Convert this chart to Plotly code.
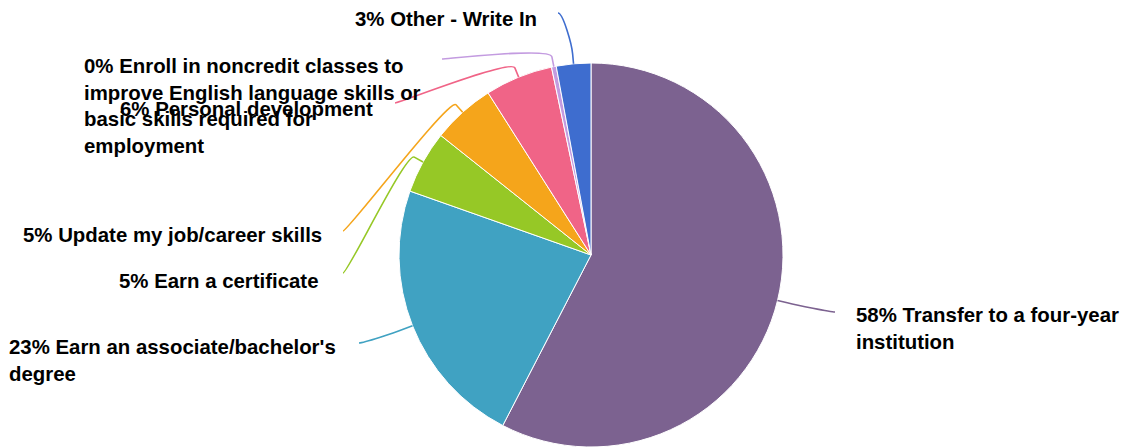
import math
import textwrap
import plotly.graph_objects as go

# ---------------- data ----------------
categories = [
    "Transfer to a four-year institution",
    "Earn an associate/bachelor's degree",
    "Earn a certificate",
    "Update my job/career skills",
    "Personal development",
    "Enroll in noncredit classes to improve English language skills or basic skills required for employment",
    "Other - Write In",
]
values = [57.6, 22.8, 5.3, 5.3, 5.7, 0.4, 2.9]

# ---------------- styles / layout ----------------
colors = ["#7C6290", "#40A2C2", "#96C826", "#F5A51B", "#F06487", "#C39BE0", "#3E6DCF"]

W, H = 1124, 447
CX, CY, R = 591, 255, 192          # pie centre and radius in pixels
BREAK = 10                          # connector crook distance outside the pie
WRAP = 34                           # characters per label line
FONT_SIZE = 20.4

# label placement (pixels): connector start, text anchor, side
label_layout = [
    dict(lx=835, ly=312, side="right", tx=855, ty=328),
    dict(lx=359, ly=343, side="left", tx=337, ty=360),
    dict(lx=343, ly=273, side="left", tx=319, ty=281),
    dict(lx=343, ly=231, side="left", tx=323, ty=235),
    dict(lx=395, ly=103, side="left", tx=374, ty=109),
    dict(lx=442, ly=59, side="left", tx=422, ty=105.5),
    dict(lx=558, ly=13, side="left", tx=538, ty=19.5),
]


def px(x):
    return x / W


def py(y):
    return 1 - y / H


fig = go.Figure(
    go.Pie(
        labels=categories,
        values=values,
        sort=False,
        direction="clockwise",
        rotation=0,
        marker=dict(colors=colors, line=dict(color="white", width=1)),
        textinfo="none",
        hoverinfo="label+percent",
        showlegend=False,
        domain=dict(x=[px(CX - R), px(CX + R)], y=[py(CY + R), py(CY - R)]),
    )
)

total = sum(values)
cum = 0.0
shapes = []
annotations = []
for cat, val, col, lay in zip(categories, values, colors, label_layout):
    mid = (cum + val / 2) / total * 2 * math.pi
    cum += val
    sx, sy = math.sin(mid), -math.cos(mid)
    tx_, ty_ = CX + R * sx, CY + R * sy
    bx, by = CX + (R + BREAK) * sx, CY + (R + BREAK) * sy
    lx, ly = lay["lx"], lay["ly"]
    c1x = lx + (5 if lay["side"] == "left" else -5)
    c2x, c2y = 2 * bx - tx_, 2 * by - ty_
    path = (
        f"M {px(lx)},{py(ly)} C {px(c1x)},{py(ly)} {px(c2x)},{py(c2y)} {px(bx)},{py(by)} "
        f"L {px(tx_)},{py(ty_)}"
    )
    shapes.append(dict(type="path", xref="paper", yref="paper", path=path,
                       line=dict(color=col, width=1.6)))

    pct = round(val / total * 100)
    text = "<br>".join(textwrap.wrap(f"{pct}% {cat}", WRAP))
    annotations.append(dict(
        x=px(lay["tx"]), y=py(lay["ty"]), xref="paper", yref="paper",
        xanchor="left" if lay["side"] == "right" else "right",
        yanchor="middle", align="left", showarrow=False, text=text, borderpad=0,
        font=dict(family="Liberation Sans, Arial, sans-serif", size=FONT_SIZE,
                  color="black", weight="bold"),
    ))

fig.update_layout(
    width=W, height=H,
    margin=dict(l=0, r=0, t=0, b=0),
    paper_bgcolor="white", plot_bgcolor="white",
    shapes=shapes, annotations=annotations,
)

fig.write_html(
    "out.html",
    config={"displayModeBar": False},
    post_script="document.body.style.margin='0px';document.body.style.overflow='hidden';",
)
